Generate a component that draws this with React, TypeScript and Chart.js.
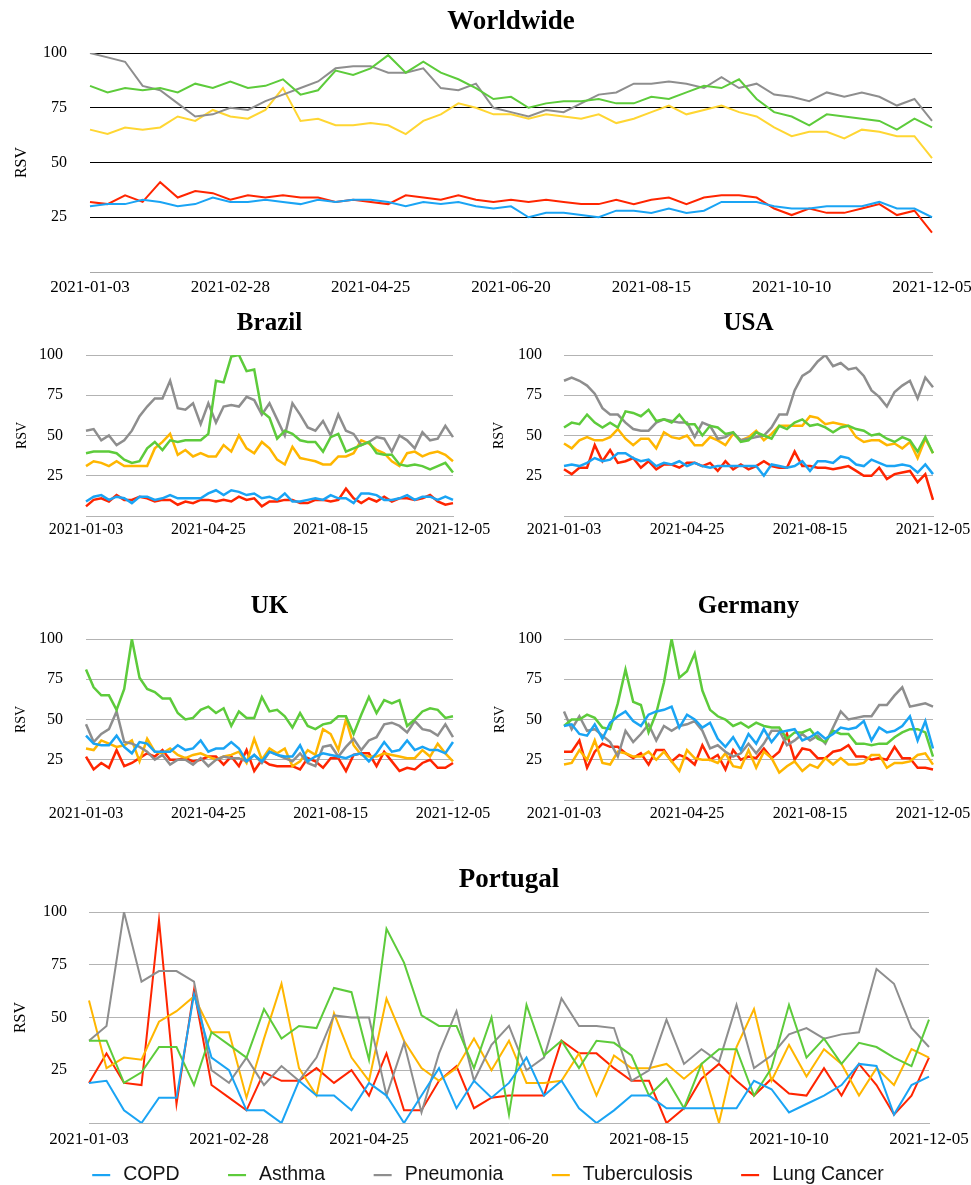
import React, { useEffect, useRef } from 'react';
import { Chart, registerables } from 'chart.js';

Chart.register(...registerables);

// ---------- categories ----------
const weeks = [
  '2021-01-03', '2021-01-10', '2021-01-17', '2021-01-24', '2021-01-31',
  '2021-02-07', '2021-02-14', '2021-02-21', '2021-02-28',
  '2021-03-07', '2021-03-14', '2021-03-21', '2021-03-28',
  '2021-04-04', '2021-04-11', '2021-04-18', '2021-04-25',
  '2021-05-02', '2021-05-09', '2021-05-16', '2021-05-23', '2021-05-30',
  '2021-06-06', '2021-06-13', '2021-06-20', '2021-06-27',
  '2021-07-04', '2021-07-11', '2021-07-18', '2021-07-25',
  '2021-08-01', '2021-08-08', '2021-08-15', '2021-08-22', '2021-08-29',
  '2021-09-05', '2021-09-12', '2021-09-19', '2021-09-26',
  '2021-10-03', '2021-10-10', '2021-10-17', '2021-10-24', '2021-10-31',
  '2021-11-07', '2021-11-14', '2021-11-21', '2021-11-28',
  '2021-12-05',
];

const seriesNames = ['COPD', 'Asthma', 'Pneumonia', 'Tuberculosis', 'Lung Cancer'];
const yTickValues = [25, 50, 75, 100];

// ---------- Worldwide ----------
const wwCOPD = [30,31,31,33,32,30,31,34,32,32,33,32,31,33,32,33,33,32,30,32,31,32,30,29,30,25,27,27,26,25,28,28,27,29,27,28,32,32,32,30,29,29,30,30,30,32,29,29,25];
const wwAsthma = [85,82,84,83,84,82,86,84,87,84,85,88,81,83,92,90,93,99,91,96,91,88,84,79,80,75,77,78,78,79,77,77,80,79,82,85,84,88,79,73,71,67,72,71,70,69,65,70,66];
const wwPneumonia = [100,98,96,85,83,77,71,72,75,74,78,81,84,87,93,94,94,91,91,93,84,83,86,75,73,71,74,73,77,81,82,86,86,87,86,84,89,84,86,81,80,78,82,80,82,80,76,79,69];
const wwTuberculosis = [65,63,66,65,66,71,69,74,71,70,74,84,69,70,67,67,68,67,63,69,72,77,75,72,72,70,72,71,70,72,68,70,73,76,72,74,76,73,71,66,62,64,64,61,65,64,62,62,52];
const wwLungCancer = [32,31,35,32,41,34,37,36,33,35,34,35,34,34,32,33,32,31,35,34,33,35,33,32,33,32,33,32,31,31,33,31,33,34,31,34,35,35,34,29,26,29,27,27,29,31,26,28,18];

// ---------- Brazil ----------
const brCOPD = [9,12,13,10,12,11,8,12,12,10,11,13,11,11,11,11,14,16,13,16,15,13,14,11,12,10,14,9,9,10,11,10,13,11,11,8,14,14,13,10,10,11,13,10,12,12,10,12,10];
const brAsthma = [39,40,40,40,39,35,33,34,42,46,41,47,46,47,47,47,51,84,83,99,100,90,91,65,61,48,53,51,47,46,46,40,49,51,40,42,44,46,39,38,38,32,31,32,31,29,31,33,27];
const brPneumonia = [53,54,47,50,44,47,53,62,68,73,73,84,67,66,70,57,70,58,68,69,68,74,72,63,70,60,50,70,63,55,53,59,50,63,53,51,44,46,49,48,40,50,47,42,52,47,48,56,49];
const brTuberculosis = [31,34,33,31,34,31,31,31,31,42,46,51,38,41,37,39,37,37,44,40,50,42,39,46,42,35,32,43,36,35,34,32,32,37,37,39,47,45,41,39,34,31,39,40,37,39,40,38,34];
const brLungCancer = [6,10,11,9,13,10,10,12,11,9,10,10,7,9,8,10,10,9,10,9,12,10,11,6,9,9,10,10,8,8,10,10,9,10,17,11,8,11,9,12,9,11,11,10,11,13,9,7,8];

// ---------- USA ----------
const usCOPD = [31,32,31,33,36,34,35,39,39,36,34,35,31,33,32,34,31,33,31,30,31,31,31,31,31,31,25,32,31,30,31,34,28,34,34,33,37,36,32,31,35,33,31,31,32,31,27,32,26];
const usAsthma = [55,58,57,63,58,55,58,55,65,64,62,66,59,60,58,63,57,57,50,56,55,51,52,46,47,52,50,48,56,54,58,60,56,57,55,52,55,56,54,53,50,51,48,46,49,47,40,49,39];
const usPneumonia = [84,86,84,81,76,67,63,63,58,54,53,53,58,60,59,58,58,49,58,56,48,49,52,47,48,49,50,55,63,63,78,87,90,96,100,93,95,91,92,87,78,74,68,77,81,84,73,86,80];
const usTuberculosis = [45,42,47,49,47,47,49,54,48,44,48,48,42,52,49,48,50,44,44,49,47,44,51,47,49,53,47,51,56,56,56,56,62,61,57,58,57,56,49,46,47,47,44,45,42,46,36,48,39];
const usLungCancer = [29,26,30,30,44,34,41,33,34,36,30,34,29,32,32,30,33,33,31,33,28,34,29,32,29,31,34,31,30,30,40,31,31,30,30,29,30,31,28,25,25,30,23,26,27,28,21,26,10];

// ---------- UK ----------
const ukCOPD = [40,35,34,34,40,33,29,36,35,30,30,30,34,31,32,37,30,32,32,36,32,24,28,24,30,28,27,27,34,24,27,29,28,27,26,28,29,24,29,36,30,31,37,31,33,31,31,29,36];
const ukAsthma = [81,70,65,65,56,69,100,76,69,67,63,63,54,50,51,56,58,54,57,46,55,51,51,64,55,56,52,45,54,46,44,47,48,52,52,41,53,64,54,62,60,62,46,50,55,57,56,51,52];
const ukPneumonia = [47,36,41,44,55,36,35,33,30,25,28,22,25,25,22,26,21,25,27,26,26,24,28,23,30,28,26,24,29,23,21,33,34,27,33,38,31,37,39,47,48,46,42,49,44,43,40,47,39];
const ukTuberculosis = [32,31,37,35,33,34,37,24,38,30,29,32,28,26,28,29,27,25,27,28,30,23,38,25,32,29,32,21,24,31,28,44,41,31,50,34,28,27,27,29,28,27,26,26,31,27,35,29,24];
const ukLungCancer = [27,19,23,20,31,21,23,26,29,27,31,25,25,26,24,25,27,27,22,27,21,31,18,25,22,21,21,21,19,26,24,20,26,26,18,28,29,29,21,30,24,18,20,19,23,25,20,20,23];

// ---------- Germany ----------
const deCOPD = [46,47,41,40,47,38,48,52,55,49,46,53,55,56,58,45,53,50,45,48,38,33,39,31,41,35,44,36,42,43,44,37,39,42,38,41,45,44,45,49,37,45,42,43,46,52,37,49,32];
const deAsthma = [46,50,50,53,51,45,44,60,81,61,59,42,54,73,100,76,80,91,68,56,52,50,46,48,45,48,46,45,45,38,42,42,44,38,36,43,41,41,35,35,34,35,35,39,42,44,44,42,27];
const dePneumonia = [55,44,52,43,44,40,36,27,43,36,41,47,37,46,43,46,47,49,43,32,34,30,27,29,35,29,35,43,43,34,37,41,37,40,35,45,55,50,51,52,52,59,59,65,70,58,59,60,58];
const deTuberculosis = [22,23,31,25,37,23,22,30,29,27,27,30,25,30,24,18,31,26,25,25,23,29,21,20,31,20,30,26,17,21,24,18,22,20,26,22,26,22,22,23,28,28,20,23,23,24,28,29,22];
const deLungCancer = [30,30,37,20,30,35,33,33,29,26,29,22,31,31,24,28,26,22,34,25,28,19,31,25,27,26,32,26,30,41,25,32,31,26,26,30,31,34,27,27,25,26,25,33,26,26,20,20,19];

// ---------- Portugal ----------
const ptCOPD = [19,20,6,0,12,12,61,31,25,6,6,0,20,13,13,6,19,13,0,13,26,7,20,12,19,31,13,20,7,0,6,13,13,7,7,7,7,7,20,16,5,9,13,18,28,27,4,18,22];
const ptAsthma = [39,39,19,24,36,36,18,43,37,31,54,40,46,45,64,62,30,92,76,51,46,46,26,50,4,56,32,39,26,39,38,32,13,21,7,28,35,35,13,26,56,31,40,28,38,36,31,27,49];
const ptPneumonia = [39,46,100,67,72,72,67,25,19,31,18,27,20,31,51,50,50,13,38,5,33,53,20,37,46,25,31,59,46,46,45,20,25,49,28,35,29,56,26,32,42,45,40,42,43,73,66,45,36];
const ptTuberculosis = [58,26,31,30,48,53,60,43,43,12,40,66,26,13,52,31,20,59,39,26,20,26,40,25,39,19,19,20,33,13,32,26,26,28,21,28,0,36,54,20,37,22,35,28,13,26,18,35,31];
const ptLungCancer = [19,33,19,18,96,9,63,18,12,6,24,20,20,26,19,25,13,33,6,6,20,27,7,12,13,13,13,39,33,33,26,20,20,0,7,21,28,20,13,21,14,13,26,13,28,18,4,13,31];

// ---------- styling ----------
const SERIF = '"Liberation Serif", "Times New Roman", Times, serif';
const SANS = '"Liberation Sans", Arial, Helvetica, sans-serif';
const COL_COPD = '#1AA4F4';
const COL_ASTHMA = '#5DCB3B';
const COL_PNEU = '#8E8E8E';
const COL_TB = '#FFB600';
const COL_TB_LIGHT = '#FFD633';
const COL_LUNG = '#FF2500';

interface PanelSpec {
  title: string;
  series: number[][];
  left: number; top: number; width: number; height: number;
  padRight: number;
  titleSize: number; titlePadTop: number; titlePadBottom: number;
  xHeight: number; xFont: number; xPad: number; tickEvery: number;
  yWidth: number; yFont: number; yPad: number; yTitleSize: number; yTitlePad: number;
  grid: string; axis: string; lineWidth: number; tbColor: string;
  legend?: boolean;
}

const GRAY_GRID = '#B3B3B3';

const panels: PanelSpec[] = [
  { title: 'Worldwide', series: [wwCOPD, wwAsthma, wwPneumonia, wwTuberculosis, wwLungCancer],
    left: 0, top: 0, width: 971, height: 305, padRight: 39,
    titleSize: 27, titlePadTop: 5.6, titlePadBottom: 15,
    xHeight: 33, xFont: 17, xPad: 5, tickEvery: 8,
    yWidth: 90, yFont: 16, yPad: 23, yTitleSize: 16, yTitlePad: 12.4,
    grid: '#000000', axis: '#A8A8A8', lineWidth: 2, tbColor: COL_TB_LIGHT },
  { title: 'Brazil', series: [brCOPD, brAsthma, brPneumonia, brTuberculosis, brLungCancer],
    left: 0, top: 300, width: 490, height: 250, padRight: 37,
    titleSize: 25, titlePadTop: 8.3, titlePadBottom: 16.7,
    xHeight: 34, xFont: 16, xPad: 4.4, tickEvery: 16,
    yWidth: 86, yFont: 16, yPad: 23, yTitleSize: 14, yTitlePad: 13.6,
    grid: GRAY_GRID, axis: GRAY_GRID, lineWidth: 2.5, tbColor: COL_TB },
  { title: 'USA', series: [usCOPD, usAsthma, usPneumonia, usTuberculosis, usLungCancer],
    left: 490, top: 300, width: 481, height: 250, padRight: 38,
    titleSize: 25, titlePadTop: 8.3, titlePadBottom: 16.7,
    xHeight: 34, xFont: 16, xPad: 4.4, tickEvery: 16,
    yWidth: 74, yFont: 16, yPad: 22, yTitleSize: 14, yTitlePad: 1.1,
    grid: GRAY_GRID, axis: GRAY_GRID, lineWidth: 2.5, tbColor: COL_TB },
  { title: 'UK', series: [ukCOPD, ukAsthma, ukPneumonia, ukTuberculosis, ukLungCancer],
    left: 0, top: 580, width: 490, height: 250, padRight: 37,
    titleSize: 25, titlePadTop: 11.6, titlePadBottom: 17.4,
    xHeight: 30, xFont: 16, xPad: 3.9, tickEvery: 16,
    yWidth: 86, yFont: 16, yPad: 23, yTitleSize: 14, yTitlePad: 13.1,
    grid: GRAY_GRID, axis: GRAY_GRID, lineWidth: 2.5, tbColor: COL_TB },
  { title: 'Germany', series: [deCOPD, deAsthma, dePneumonia, deTuberculosis, deLungCancer],
    left: 490, top: 580, width: 481, height: 250, padRight: 38,
    titleSize: 25, titlePadTop: 11.6, titlePadBottom: 17.4,
    xHeight: 30, xFont: 16, xPad: 3.9, tickEvery: 16,
    yWidth: 74, yFont: 16, yPad: 22, yTitleSize: 14, yTitlePad: 2.1,
    grid: GRAY_GRID, axis: GRAY_GRID, lineWidth: 2.5, tbColor: COL_TB },
  { title: 'Portugal', series: [ptCOPD, ptAsthma, ptPneumonia, ptTuberculosis, ptLungCancer],
    left: 0, top: 850, width: 971, height: 335, padRight: 42,
    titleSize: 27, titlePadTop: 13.8, titlePadBottom: 15.8,
    xHeight: 62, xFont: 17, xPad: 6.3, tickEvery: 8,
    yWidth: 89, yFont: 16, yPad: 22, yTitleSize: 16, yTitlePad: 11.4,
    grid: GRAY_GRID, axis: GRAY_GRID, lineWidth: 2, tbColor: COL_TB, legend: true },
];

// bottom legend (drawn on the Portugal chart canvas)
const LEG_Y = 325;
const LEG_CENTER = 488;
const LEG_SYM = 18;
const LEG_GAP = 13;
const LEG_SPACING = 48.5;
const LEG_FONT = 19.5;

const bottomLegend = {
  id: 'bottomLegend',
  afterDraw(chart: any) {
    const ctx = chart.ctx as CanvasRenderingContext2D;
    ctx.save();
    ctx.font = `${LEG_FONT}px ${SANS}`;
    ctx.textBaseline = 'middle';
    ctx.textAlign = 'left';
    const items = chart.data.datasets.map((d: any) => ({
      text: d.label as string,
      color: d.borderColor as string,
      w: ctx.measureText(d.label).width,
    }));
    const total = items.reduce((s: number, it: any) => s + LEG_SYM + LEG_GAP + it.w, 0) + LEG_SPACING * (items.length - 1);
    let x = LEG_CENTER - total / 2;
    for (const it of items) {
      ctx.fillStyle = it.color;
      ctx.fillRect(x, LEG_Y - 1, LEG_SYM, 2.2);
      ctx.fillStyle = '#141414';
      ctx.fillText(it.text, x + LEG_SYM + LEG_GAP, LEG_Y);
      x += LEG_SYM + LEG_GAP + it.w + LEG_SPACING;
    }
    ctx.restore();
  },
};

function Panel({ spec }: { spec: PanelSpec }) {
  const ref = useRef<HTMLCanvasElement>(null);
  useEffect(() => {
    if (!ref.current) return;
    const colors = [COL_COPD, COL_ASTHMA, COL_PNEU, spec.tbColor, COL_LUNG];
    const chart = new Chart(ref.current, {
      type: 'line',
      data: {
        labels: weeks,
        datasets: spec.series.map((data, i) => ({
          label: seriesNames[i],
          data,
          borderColor: colors[i],
          backgroundColor: colors[i],
          borderWidth: spec.lineWidth,
          pointRadius: 0,
          pointHoverRadius: 0,
          tension: 0,
          fill: false,
        })),
      },
      options: {
        responsive: false,
        animation: false,
        events: [],
        layout: { padding: { left: 0, right: spec.padRight, top: 0, bottom: 0 } },
        plugins: {
          legend: { display: false },
          tooltip: { enabled: false },
          title: {
            display: true,
            text: spec.title,
            fullSize: false,
            color: '#000',
            font: { family: SERIF, size: spec.titleSize, weight: 'bold' },
            padding: { top: spec.titlePadTop, bottom: spec.titlePadBottom },
          },
        },
        scales: {
          x: {
            type: 'category',
            grid: { color: 'rgba(0,0,0,0)', drawTicks: false },
            border: { display: true, color: spec.axis, width: 1 },
            ticks: {
              autoSkip: false,
              maxRotation: 0,
              minRotation: 0,
              padding: spec.xPad,
              color: '#000',
              font: { family: SERIF, size: spec.xFont },
              callback: (_v: any, index: number) => (index % spec.tickEvery === 0 ? weeks[index] : ''),
            },
            afterFit: (scale: any) => {
              scale.height = spec.xHeight;
              scale.paddingLeft = 0;
              scale.paddingRight = 0;
            },
          },
          y: {
            min: 0,
            max: 100,
            afterBuildTicks: (scale: any) => {
              scale.ticks = [0, ...yTickValues].map((v) => ({ value: v }));
            },
            grid: {
              drawTicks: false,
              lineWidth: 1,
              color: (c: any) => (c.tick && c.tick.value === 0 ? 'rgba(0,0,0,0)' : spec.grid),
            },
            border: { display: false },
            ticks: {
              padding: spec.yPad,
              color: '#000',
              font: { family: SERIF, size: spec.yFont },
              callback: (v: any) => (v === 0 ? '' : String(v)),
            },
            title: {
              display: true,
              text: 'RSV',
              color: '#000',
              font: { family: SERIF, size: spec.yTitleSize },
              padding: { top: spec.yTitlePad, bottom: 0 },
            },
            afterFit: (scale: any) => {
              scale.width = spec.yWidth;
              scale.paddingTop = 0;
              scale.paddingBottom = 0;
            },
          },
        },
      },
      plugins: spec.legend ? [bottomLegend] : [],
    } as any);
    return () => chart.destroy();
  }, [spec]);
  return (
    <canvas
      ref={ref}
      width={spec.width}
      height={spec.height}
      style={{ position: 'absolute', left: spec.left, top: spec.top, width: spec.width, height: spec.height }}
    />
  );
}

export default function App() {
  return (
    <div style={{ position: 'absolute', left: 0, top: 0, width: 971, height: 1185, background: '#ffffff', overflow: 'hidden' }}>
      {panels.map((p) => (
        <Panel key={p.title} spec={p} />
      ))}
    </div>
  );
}
